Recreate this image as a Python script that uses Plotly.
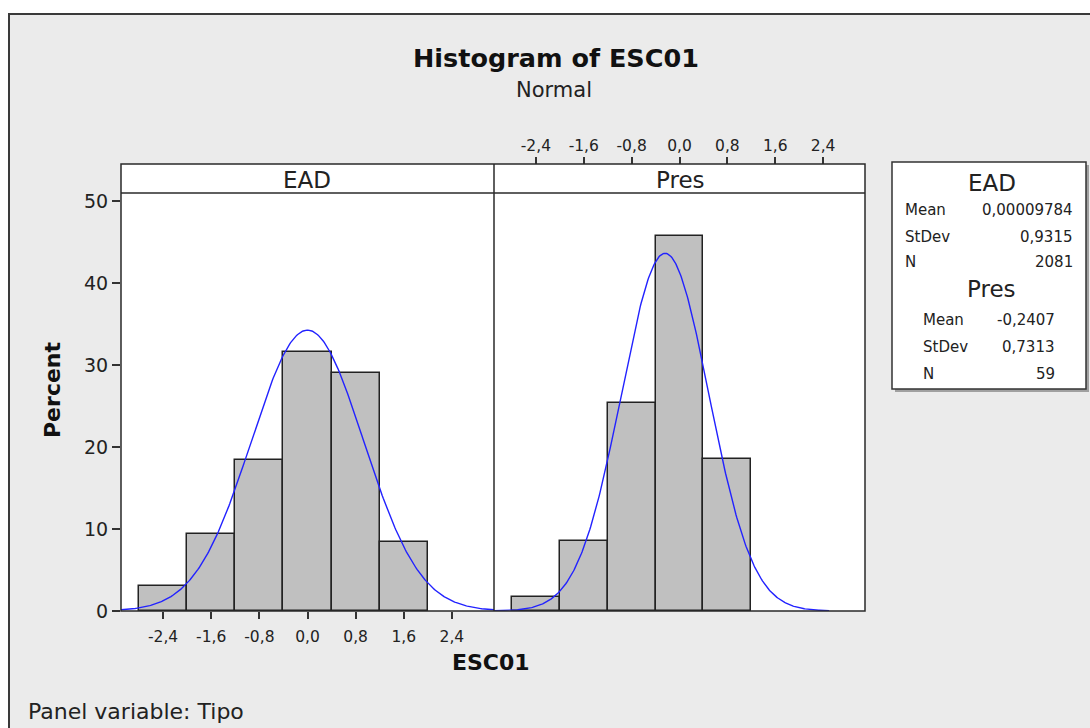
import numpy as np
import plotly.graph_objects as go

# ---------------- data ----------------
bin_centers_ead = [-2.4, -1.6, -0.8, 0.0, 0.8, 1.6]
pct_ead = [3.0, 9.4, 18.4, 31.6, 29.0, 8.4]
bin_centers_pres = [-2.4, -1.6, -0.8, 0.0, 0.8]
pct_pres = [1.7, 8.5, 25.4, 45.8, 18.6]
bin_width = 0.8
mean_ead, sd_ead, n_ead = 0.00009784, 0.9315, 2081
mean_pres, sd_pres, n_pres = -0.2407, 0.7313, 59
x_tick_vals = [-2.4, -1.6, -0.8, 0.0, 0.8, 1.6, 2.4]
x_tick_text = ["-2,4", "-1,6", "-0,8", "0,0", "0,8", "1,6", "2,4"]
y_tick_vals = [0, 10, 20, 30, 40, 50]
panel_labels = ["EAD", "Pres"]

# ---------------- helpers ----------------
W, H = 1090, 728
def px(x):
    return x / W
def py(y):
    return 1 - y / H

FONT = "DejaVu Sans"
DARK = "#222222"

def normal_curve(mu, sd, lo, hi):
    xs = np.linspace(lo, hi, 400)
    ys = 100 * bin_width * np.exp(-0.5 * ((xs - mu) / sd) ** 2) / (sd * np.sqrt(2 * np.pi))
    return xs, ys

fig = go.Figure()

bar_style = dict(color="#c0c0c0", line=dict(color="#222222", width=1.5))
fig.add_trace(go.Bar(x=bin_centers_ead, y=pct_ead, width=bin_width, marker=bar_style,
                     xaxis="x", yaxis="y", showlegend=False))
fig.add_trace(go.Bar(x=bin_centers_pres, y=pct_pres, width=bin_width, marker=bar_style,
                     xaxis="x2", yaxis="y2", showlegend=False))

cx, cy = normal_curve(mean_ead, sd_ead, -3.2, 3.2)
fig.add_trace(go.Scatter(x=cx, y=cy, mode="lines", line=dict(color="#2222ff", width=1.4),
                         xaxis="x", yaxis="y", showlegend=False))
cx2, cy2 = normal_curve(mean_pres, sd_pres, -3.2, 2.5)
fig.add_trace(go.Scatter(x=cx2, y=cy2, mode="lines", line=dict(color="#2222ff", width=1.4),
                         xaxis="x2", yaxis="y2", showlegend=False))

xr = [-3.1, 3.1]
tickfont = dict(family=FONT, size=15.5, color=DARK)
common_x = dict(range=xr, tickvals=x_tick_vals, ticktext=x_tick_text, ticks="outside",
                ticklen=7, tickwidth=1.5, tickcolor="#333", showgrid=False, zeroline=False,
                showline=False, tickfont=tickfont, fixedrange=True, automargin=False)

fig.update_layout(
    width=W, height=H,
    margin=dict(l=0, r=0, t=0, b=0, pad=0, autoexpand=False),
    showlegend=False,
    paper_bgcolor="white",
    plot_bgcolor="rgba(0,0,0,0)",
    bargap=0,
    xaxis=dict(domain=[px(121), px(494)], anchor="y", ticklabelstandoff=4, **common_x),
    xaxis2=dict(domain=[px(494), px(865)], anchor="free", side="top", position=py(164), **common_x),
    yaxis=dict(domain=[py(611), py(193)], range=[0, 51], tickvals=y_tick_vals, ticks="outside",
               ticklen=8, tickwidth=1.5, tickcolor="#333", showgrid=False, zeroline=False,
               showline=False, tickfont=dict(family=FONT, size=19, color=DARK), anchor="x",
               automargin=False, fixedrange=True),
    yaxis2=dict(domain=[py(611), py(193)], range=[0, 51], showticklabels=False, ticks="",
                showgrid=False, zeroline=False, showline=False, anchor="x2",
                automargin=False, fixedrange=True),
)

shapes = []
# grey background with border
shapes.append(dict(type="rect", xref="paper", yref="paper", x0=px(9), y0=py(14), x1=1.02, y1=-0.02,
                   fillcolor="#ebebeb", line=dict(color="#3a3a3a", width=2), layer="below"))
# white panel area
shapes.append(dict(type="rect", xref="paper", yref="paper", x0=px(121), y0=py(164), x1=px(865), y1=py(611),
                   fillcolor="white", line=dict(width=0), layer="below"))
# frame
frame = dict(color="#2a2a2a", width=1.5)
shapes.append(dict(type="rect", xref="paper", yref="paper", x0=px(121), y0=py(164), x1=px(865), y1=py(611),
                   line=frame, layer="above"))
shapes.append(dict(type="line", xref="paper", yref="paper", x0=px(121), y0=py(193), x1=px(865), y1=py(193),
                   line=frame, layer="above"))
shapes.append(dict(type="line", xref="paper", yref="paper", x0=px(494), y0=py(164), x1=px(494), y1=py(611),
                   line=frame, layer="above"))
# legend box with shadow
shapes.append(dict(type="rect", xref="paper", yref="paper", x0=px(895), y0=py(165), x1=px(1089), y1=py(392),
                   fillcolor="#a0a0a0", line=dict(width=0), layer="above"))
shapes.append(dict(type="rect", xref="paper", yref="paper", x0=px(892), y0=py(162), x1=px(1086), y1=py(389),
                   fillcolor="white", line=dict(color="#333", width=1.5), layer="above"))
fig.update_layout(shapes=shapes)

ann = []
def text(x, y, s, size, xanchor="center", bold=False, angle=0, color=DARK):
    ann.append(dict(x=px(x), y=py(y), xref="paper", yref="paper", text=f"<b>{s}</b>" if bold else s,
                    showarrow=False, xanchor=xanchor, yanchor="middle", textangle=angle,
                    font=dict(family=FONT, size=size, color=color)))

text(556, 58, "Histogram of ESC01", 25.5, bold=True, color="#111")
text(554, 90, "Normal", 21)
text(307, 180, panel_labels[0], 23)
text(680, 180, panel_labels[1], 23)
text(52, 390, "Percent", 22, bold=True, angle=-90, color="#111")
text(491, 662, "ESC01", 22, bold=True, color="#111")
text(26, 711, "Panel variable: Tipo", 22, xanchor="left")

def fmt(v, d):
    return f"{v:.{d}f}".replace(".", ",")

# legend text
ls = 15
text(992, 183, "EAD", 23)
text(903, 210, "Mean", ls, xanchor="left")
text(1075, 210, fmt(mean_ead, 8), ls, xanchor="right")
text(903, 237, "StDev", ls, xanchor="left")
text(1075, 237, fmt(sd_ead, 4), ls, xanchor="right")
text(903, 262, "N", ls, xanchor="left")
text(1075, 262, str(n_ead), ls, xanchor="right")
text(991, 289, "Pres", 23)
text(921, 320, "Mean", ls, xanchor="left")
text(1057, 320, fmt(mean_pres, 4), ls, xanchor="right")
text(921, 347, "StDev", ls, xanchor="left")
text(1057, 347, fmt(sd_pres, 4), ls, xanchor="right")
text(921, 374, "N", ls, xanchor="left")
text(1057, 374, str(n_pres), ls, xanchor="right")
fig.update_layout(annotations=ann)

fig.write_html("out.html", config={"displayModeBar": False},
               post_script="document.body.style.margin='0px';document.body.style.overflow='hidden';")
